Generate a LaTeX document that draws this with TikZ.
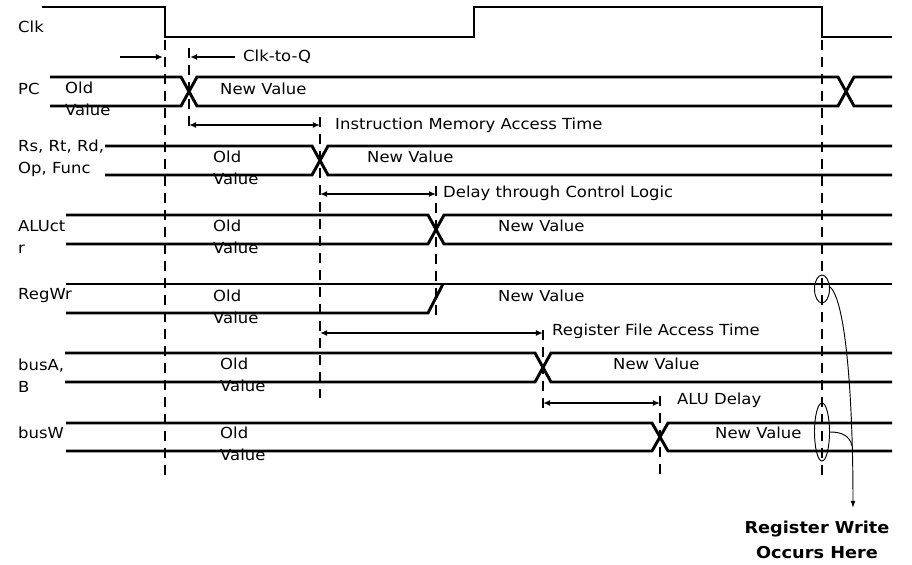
\documentclass[tikz,border=0pt]{standalone}
\usepackage{fontspec}
\setmainfont{DejaVu Sans}[FakeStretch=1.08]
\usetikzlibrary{arrows.meta,shapes.geometric}

\tikzset{
  sig/.style={line width=2.5pt},
  edgeline/.style={line width=2.4pt, dash pattern=on 8.5pt off 6pt},
  dim/.style={line width=1.2pt, {Latex[length=6pt,width=5pt]}-{Latex[length=6pt,width=5pt]}},
  lbl/.style={anchor=west, inner sep=0pt, align=left,
    font=\fontsize{13}{18.7}\selectfont},
  ring/.style={draw, ellipse, line width=0.8pt, inner sep=0pt, minimum width=0.45cm},
}

% one bus with a change of value at #4
\newcommand{\busrow}[4]{%
  \draw[sig] (#3,#1) -- ({#4-8},#1) -- ({#4+8},#2) -- (892,#2);
  \draw[sig] (#3,#2) -- ({#4-8},#2) -- ({#4+8},#1) -- (892,#1);
}

\begin{document}
\begin{tikzpicture}[x=0.03cm, y=-0.03cm]
\useasboundingbox (0,0) rectangle (912,565);

% clock
\draw[sig] (42,7) -- (165,7) -- (165,37) -- (474,37) -- (474,7) -- (822,7) -- (822,37) -- (892,37);
\node[lbl] (clk) at (18,27) {Clk};

% signals
\draw[sig] (50,77) -- (181,77) -- (197,106) -- (838,106) -- (854,77) -- (892,77);
\draw[sig] (50,106) -- (181,106) -- (197,77) -- (838,77) -- (854,106) -- (892,106);
\busrow{146}{175}{105}{320}
\busrow{215}{244}{66}{436}
\draw[sig] (66,284) -- (892,284);
\draw[sig] (66,313) -- (428,313) -- (443,284);
\busrow{353}{382}{65}{543}
\busrow{423}{451}{66}{660}

\node[lbl] (pc) at (18,89) {PC};
\node[lbl] (rs) at (18,158) {Rs, Rt, Rd,\\Op, Func};
\node[lbl] (aluctr) at (18,237) {ALUct\\r};
\node[lbl] (regwr) at (18,296) {RegWr};
\node[lbl] (busab) at (18,376) {busA,\\B};
\node[lbl] (busw) at (18,433) {busW};

\node[lbl] (pcold) at (65,99) {Old\\Value};
\node[lbl] (rsold) at (213,168) {Old\\Value};
\node[lbl] (aluold) at (213,237) {Old\\Value};
\node[lbl] (wrold) at (213,307) {Old\\Value};
\node[lbl] (busabold) at (220,375) {Old\\Value};
\node[lbl] (buswold) at (220,444) {Old\\Value};

\node[lbl] (pcnew) at (220,89) {New Value};
\node[lbl] (rsnew) at (367,157) {New Value};
\node[lbl] (alunew) at (498,226) {New Value};
\node[lbl] (wrnew) at (498,296) {New Value};
\node[lbl] (busabnew) at (613,364) {New Value};
\node[lbl] (buswnew) at (715,433) {New Value};

% edges
\draw[edgeline] (165,40) -- (165,475);
\draw[edgeline] (189,48) -- (189,126);
\draw[edgeline] (320,117) -- (320,398);
\draw[edgeline] (436,186) -- (436,315);
\draw[edgeline] (543,330) -- (543,408);
\draw[edgeline] (660,396) -- (660,474);
\draw[edgeline] (822,40) -- (822,475);

% delays
\coordinate (setup) at (120,57);
\coordinate (fall) at (163,57);
\coordinate (pcq) at (190,57);
\coordinate (cqend) at (235,57);
\coordinate (im1) at (189,125);  \coordinate (im2) at (320,125);
\coordinate (cl1) at (320,194);  \coordinate (cl2) at (436,194);
\coordinate (rf1) at (320,333);  \coordinate (rf2) at (543,333);
\coordinate (alu1) at (543,403); \coordinate (alu2) at (660,403);

\draw[line width=1.2pt, -{Latex[length=6pt,width=5pt]}] (setup) -- (fall);
\draw[line width=1.2pt, -{Latex[length=6pt,width=5pt]}] (cqend) -- (pcq);
\draw[dim] (im1) -- (im2);
\draw[dim] (cl1) -- (cl2);
\draw[dim] (rf1) -- (rf2);
\draw[dim] (alu1) -- (alu2);

\node[lbl] (cqlbl) at (243,57) {Clk-to-Q};
\node[lbl] (imlbl) at (335,125) {Instruction Memory Access Time};
\node[lbl] (cllbl) at (443,193) {Delay through Control Logic};
\node[lbl] (rflbl) at (552,331) {Register File Access Time};
\node[lbl] (alulbl) at (677,400) {ALU Delay};

% register write
\node[ring, minimum height=0.84cm] (wr1) at (822,289) {};
\node[ring, minimum height=1.74cm] (wr2) at (822,432) {};
\coordinate (wrtip) at (853,508);
\draw[line width=0.8pt, -{Latex[length=6pt,width=4pt]}] (wr1.15) .. controls (846,300) and (853,400) .. (wrtip);
\draw[line width=0.8pt] (wr2.east) .. controls (842,432) and (850,436) .. (852,446);
\node[align=center, inner sep=0pt, font=\bfseries\fontsize{14}{21}\selectfont] (wrnote) at (817,540) {Register Write\\Occurs Here};

\end{tikzpicture}
\end{document}
